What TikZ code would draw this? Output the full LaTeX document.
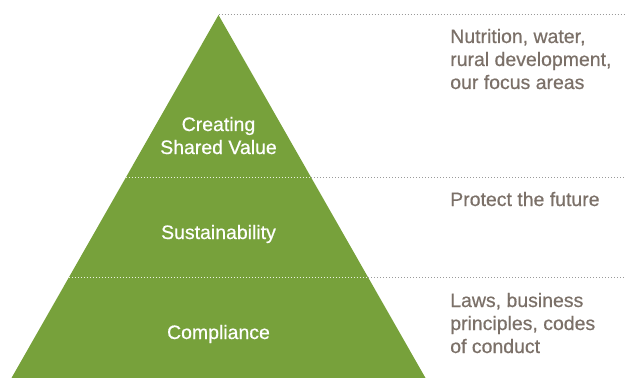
\documentclass[tikz,border=0pt]{standalone}
\usepackage{fontspec}
\setmainfont{Liberation Sans}[FakeBold=0.6]
\definecolor{leaf}{HTML}{77A13B}
\definecolor{bark}{HTML}{7B7068}
\definecolor{dotgray}{HTML}{9A9A9A}

\begin{document}
\begin{tikzpicture}[x=0.75pt, y=-0.75pt]
		\tikzset{level/.style = {text=white, font=\fontsize{14.6}{17.25}\selectfont, align=center, anchor=base, inner sep=0pt}}
		\tikzset{note/.style = {text=bark, font=\fontsize{14.6}{17.25}\selectfont, align=left, anchor=base west, inner sep=0pt}}
		\tikzset{rule/.style = {dotgray, line width=0.75pt, dash pattern=on 0.75pt off 1.5pt}}
		\tikzset{inner/.style = {rule, white!85!leaf}}
		
		\useasboundingbox (0,0) rectangle (625,378);
		
		\coordinate (top) at (218.5,  15);
		\coordinate (bl)  at ( 11.5, 378);
		\coordinate (br)  at (425.5, 378);
		\coordinate (l2)  at (125.8, 177.5);
		\coordinate (r2)  at (311.2, 177.5);
		\coordinate (l3)  at ( 68.8, 277.5);
		\coordinate (r3)  at (368.2, 277.5);
		\coordinate (e1)  at (625,  15);
		\coordinate (e2)  at (625, 177.5);
		\coordinate (e3)  at (625, 277.5);
		
		\fill[leaf] (top) -- (br) -- (bl) -- cycle;
		
		\draw[rule]  (top) -- (e1);
		\draw[rule]  (r2)  -- (e2);
		\draw[rule]  (r3)  -- (e3);
		\draw[inner] (l2)  -- (r2);
		\draw[inner] (l3)  -- (r3);
		
		\node[level] (csv)  at (218.5, 154) {Creating\\Shared Value};
		\node[level] (sust) at (218.5, 239) {Sustainability};
		\node[level] (comp) at (218.5, 339) {Compliance};
		
		\node[note]  (n1)   at (450,  89) {Nutrition, water,\\rural development,\\our focus areas};
		\node[note]  (n2)   at (450, 206) {Protect the future};
		\node[note]  (n3)   at (450, 353) {Laws, business\\principles, codes\\of conduct};
		\end{tikzpicture}
\end{document}
